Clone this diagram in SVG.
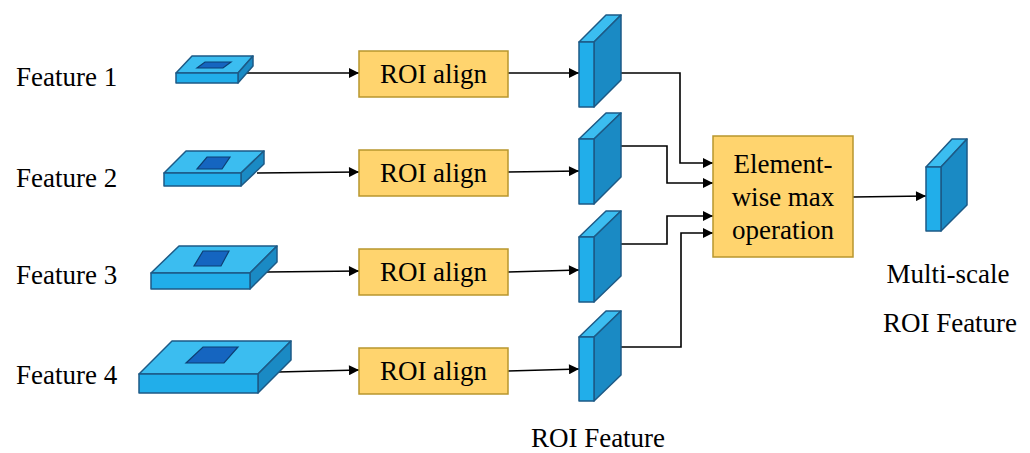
<svg xmlns="http://www.w3.org/2000/svg" width="1030" height="453" viewBox="0 0 1030 453">
<defs>
<marker id="ah" viewBox="0 0 10 10" refX="10" refY="5" markerWidth="11" markerHeight="10" markerUnits="userSpaceOnUse" orient="auto">
<path d="M0,0 L10,5 L0,10 z" fill="#000"/>
</marker>
<style>
.t{font-family:'Liberation Serif','DejaVu Serif',serif;font-size:27px;fill:#000}
.front{fill:#21AEEA;stroke:#1D5A86;stroke-width:1.5;stroke-linejoin:round}
.top{fill:#3BBDF0;stroke:#1D5A86;stroke-width:1.5;stroke-linejoin:round}
.side{fill:#1A8AC4;stroke:#1D5A86;stroke-width:1.5;stroke-linejoin:round}
.roi{fill:#1565C0;stroke:#0D3F73;stroke-width:1.2}
.box{fill:#FFD46E;stroke:#B8962E;stroke-width:1.5}
.conn{fill:none;stroke:#000;stroke-width:1.6}
.mid{text-anchor:middle}
</style>
</defs>
<rect width="1030" height="453" fill="#fff"/>

<g id="labels" font-family="Liberation Serif, DejaVu Serif, serif" font-size="27">
<text class="t" x="16" y="86">Feature 1</text>
<text class="t" x="16" y="187">Feature 2</text>
<text class="t" x="16" y="284">Feature 3</text>
<text class="t" x="16" y="384">Feature 4</text>
<text class="t mid" x="598" y="447">ROI Feature</text>
<text class="t mid" x="948" y="283">Multi-scale</text>
<text class="t mid" x="950" y="332">ROI Feature</text>
</g>

<g id="connectors">
<path class="conn" d="M247,73 L359,73" marker-end="url(#ah)"/>
<path class="conn" d="M257,173 L359,172" marker-end="url(#ah)"/>
<path class="conn" d="M267,272 L359,271" marker-end="url(#ah)"/>
<path class="conn" d="M278,372 L359,370" marker-end="url(#ah)"/>
<path class="conn" d="M508,73 L579,73" marker-end="url(#ah)"/>
<path class="conn" d="M508,172 L579,171" marker-end="url(#ah)"/>
<path class="conn" d="M508,272 L579,270" marker-end="url(#ah)"/>
<path class="conn" d="M508,371 L579,369" marker-end="url(#ah)"/>
<path class="conn" d="M621,73 L680,73 L680,163 L713,163" marker-end="url(#ah)"/>
<path class="conn" d="M621,146 L667,146 L667,183 L713,183" marker-end="url(#ah)"/>
<path class="conn" d="M621,244 L667,244 L667,216 L713,216" marker-end="url(#ah)"/>
<path class="conn" d="M621,347 L681,347 L681,233 L713,233" marker-end="url(#ah)"/>
<path class="conn" d="M853,197 L926,196" marker-end="url(#ah)"/>
</g>

<g id="feature1">
<polygon class="top" points="176,73 192,56 253,56 238,73"/>
<polygon class="side" points="238,73 253,56 253,66 238,83"/>
<rect class="front" x="176" y="73" width="62" height="10"/>
<polygon class="roi" points="205,62 231,62 223,68 197,68"/>
</g>
<g id="feature2">
<polygon class="top" points="164,173 186,151 264,151 241,173"/>
<polygon class="side" points="241,173 264,151 264,164 241,186"/>
<rect class="front" x="164" y="173" width="77" height="13"/>
<polygon class="roi" points="207,157 230,157 222,169 197,169"/>
</g>
<g id="feature3">
<polygon class="top" points="151,273 179,246 277,246 250,273"/>
<polygon class="side" points="250,273 277,246 277,262 250,289"/>
<rect class="front" x="151" y="273" width="99" height="16"/>
<polygon class="roi" points="203,251 229,251 221,266 194,266"/>
</g>
<g id="feature4">
<polygon class="top" points="139,374 172,341 291,341 258,374"/>
<polygon class="side" points="258,374 291,341 291,360 258,393"/>
<rect class="front" x="139" y="374" width="119" height="19"/>
<polygon class="roi" points="203,347 238,347 224,363 186,363"/>
</g>

<g id="roialign1" font-family="Liberation Serif, DejaVu Serif, serif"><rect class="box" x="359" y="51" width="149" height="46"/><text class="t mid" x="433.5" y="83">ROI align</text></g>
<g id="roialign2" font-family="Liberation Serif, DejaVu Serif, serif"><rect class="box" x="359" y="150" width="149" height="46"/><text class="t mid" x="433.5" y="182">ROI align</text></g>
<g id="roialign3" font-family="Liberation Serif, DejaVu Serif, serif"><rect class="box" x="359" y="249" width="149" height="46"/><text class="t mid" x="433.5" y="281">ROI align</text></g>
<g id="roialign4" font-family="Liberation Serif, DejaVu Serif, serif"><rect class="box" x="359" y="348" width="149" height="46"/><text class="t mid" x="433.5" y="380">ROI align</text></g>

<g id="roifeature1">
<polygon class="top" points="579,42 606,15 621,15 594,42"/>
<polygon class="side" points="594,42 621,15 621,80 594,107"/>
<rect class="front" x="579" y="42" width="15" height="65"/>
</g>
<g id="roifeature2">
<polygon class="top" points="579,139 606,113 621,113 594,139"/>
<polygon class="side" points="594,139 621,113 621,177 594,204"/>
<rect class="front" x="579" y="139" width="15" height="65"/>
</g>
<g id="roifeature3">
<polygon class="top" points="579,237 606,211 621,211 594,237"/>
<polygon class="side" points="594,237 621,211 621,276 594,302"/>
<rect class="front" x="579" y="237" width="15" height="65"/>
</g>
<g id="roifeature4">
<polygon class="top" points="579,337 606,311 621,311 594,337"/>
<polygon class="side" points="594,337 621,311 621,375 594,401"/>
<rect class="front" x="579" y="337" width="15" height="64"/>
</g>

<g id="elementwise" font-family="Liberation Serif, DejaVu Serif, serif">
<rect class="box" x="713" y="136" width="140" height="121"/>
<text class="t mid" x="783" y="173">Element-</text>
<text class="t mid" x="783" y="206">wise max</text>
<text class="t mid" x="783" y="239">operation</text>
</g>

<g id="output">
<polygon class="top" points="926,167 952,139 967,139 941,167"/>
<polygon class="side" points="941,167 967,139 967,205 941,231"/>
<rect class="front" x="926" y="167" width="15" height="64"/>
</g>
</svg>
